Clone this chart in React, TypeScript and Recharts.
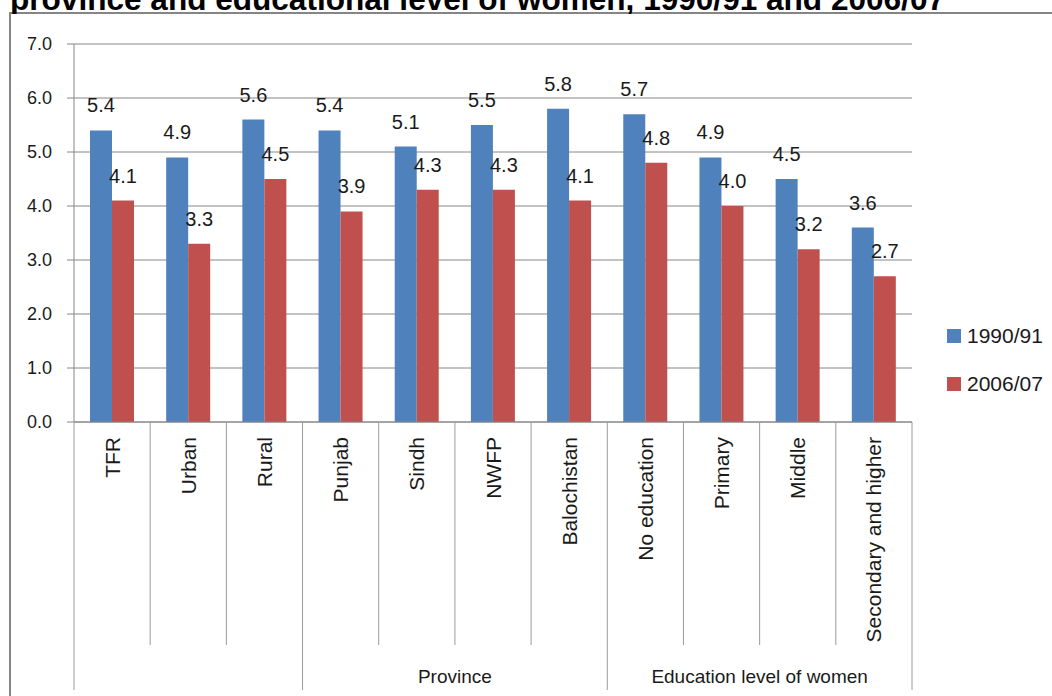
import React from 'react';
import { BarChart, Bar, XAxis, YAxis, CartesianGrid, Legend, LabelList } from 'recharts';

const title = 'province and educational level of women, 1990/91 and 2006/07';
const categories = ['TFR', 'Urban', 'Rural', 'Punjab', 'Sindh', 'NWFP', 'Balochistan', 'No education', 'Primary', 'Middle', 'Secondary and higher'];
const values1990 = [5.4, 4.9, 5.6, 5.4, 5.1, 5.5, 5.8, 5.7, 4.9, 4.5, 3.6];
const values2006 = [4.1, 3.3, 4.5, 3.9, 4.3, 4.3, 4.1, 4.8, 4.0, 3.2, 2.7];
const seriesNames = ['1990/91', '2006/07'];
const seriesColors = ['#4F81BD', '#C0504D'];
const yTicks = [0, 1, 2, 3, 4, 5, 6, 7];
const groupLabels = ['', 'Province', 'Education level of women'];
const groupStarts = [0, 3, 7];
const groupEnds = [2, 6, 10];

const FONT = "'Liberation Sans', Arial, sans-serif";
const TEXT = '#1a1a1a';
const AXIS = '#868686';
const SEP = '#9a9a9a';

const data = categories.map((c, i) => ({ cat: c, a: values1990[i], b: values2006[i] }));

const CategoryTick = (props: any) => {
  const { x, y, payload, index } = props;
  const half = payload && typeof payload.offset === 'number' && payload.offset > 0 ? payload.offset : 838 / 11 / 2;
  const left = x - half;
  const right = x + half;
  const gIdx = groupStarts.findIndex((s, gi) => index >= s && index <= groupEnds[gi]);
  const isGroupStart = groupStarts.indexOf(index) >= 0;
  const isLast = index === categories.length - 1;
  const count = gIdx >= 0 ? groupEnds[gIdx] - groupStarts[gIdx] + 1 : 0;
  return (
    <g>
      <line x1={left} x2={left} y1={y} y2={y + (isGroupStart ? 268 : 223)} stroke={SEP} strokeWidth={1} />
      {isLast && <line x1={right} x2={right} y1={y} y2={y + 268} stroke={SEP} strokeWidth={1} />}
      <text
        transform={`translate(${x},${y + 15}) rotate(-90)`}
        textAnchor="end"
        dominantBaseline="central"
        fontSize={21}
        fontFamily={FONT}
        fill={TEXT}
      >
        {payload.value}
      </text>
      {isGroupStart && gIdx >= 0 && groupLabels[gIdx] && (
        <text x={left + count * half} y={y + 261} textAnchor="middle" fontSize={19} fontFamily={FONT} fill={TEXT}>
          {groupLabels[gIdx]}
        </text>
      )}
    </g>
  );
};

const LegendContent = (props: any) => {
  const payload = props.payload || [];
  return (
    <div style={{ fontFamily: FONT, fontSize: 21, color: TEXT }}>
      {payload.map((p: any, i: number) => (
        <div key={i} style={{ display: 'flex', alignItems: 'center', height: 48 }}>
          <span style={{ display: 'inline-block', width: 14, height: 14, background: p.color, marginRight: 6 }} />
          <span>{p.value}</span>
        </div>
      ))}
    </div>
  );
};

export default function App() {
  return (
    <div style={{ position: 'absolute', left: 0, top: 0, width: 1052, height: 696, overflow: 'hidden', background: '#fff' }}>
      <div style={{ position: 'absolute', left: 10, top: 12, width: 1042, height: 2, background: '#858585' }} />
      <div style={{ position: 'absolute', left: 9, top: 12, width: 2, height: 684, background: '#858585' }} />
      <svg style={{ position: 'absolute', left: 0, top: 0 }} width={1052} height={14}>
        <text x={10} y={10} fontSize={31} fontWeight="bold" fontFamily={FONT} fill="#000" textLength={935} lengthAdjust="spacingAndGlyphs">
          {title}
        </text>
      </svg>
      <div style={{ position: 'absolute', left: 0, top: 0 }}>
        <BarChart width={1052} height={696} data={data} margin={{ top: 44, right: 140, bottom: 0, left: 0 }} barCategoryGap="21%" barGap={0}>
          <CartesianGrid vertical={false} stroke={AXIS} strokeDasharray="" />
          <YAxis
            domain={[0, 7]}
            ticks={yTicks}
            width={74}
            tickSize={7}
            tickMargin={15}
            axisLine={{ stroke: AXIS }}
            tickLine={{ stroke: AXIS }}
            tick={{ fontSize: 18, fill: TEXT, fontFamily: FONT }}
            tickFormatter={(v: number) => v.toFixed(1)}
            interval={0}
          />
          <XAxis
            dataKey="cat"
            height={274}
            interval={0}
            tickSize={0}
            tickMargin={0}
            tickLine={false}
            axisLine={{ stroke: AXIS }}
            tick={<CategoryTick />}
          />
          <Legend
            layout="vertical"
            align="center"
            verticalAlign="middle"
            wrapperStyle={{ left: 947, top: 312, width: 105 }}
            content={<LegendContent />}
          />
          <Bar dataKey="a" name={seriesNames[0]} fill={seriesColors[0]} isAnimationActive={false}>
            <LabelList dataKey="a" position="top" offset={18} fontSize={20} fontFamily={FONT} fill={TEXT} formatter={(v: any) => Number(v).toFixed(1)} />
          </Bar>
          <Bar dataKey="b" name={seriesNames[1]} fill={seriesColors[1]} isAnimationActive={false}>
            <LabelList dataKey="b" position="top" offset={18} fontSize={20} fontFamily={FONT} fill={TEXT} formatter={(v: any) => Number(v).toFixed(1)} />
          </Bar>
        </BarChart>
      </div>
    </div>
  );
}
